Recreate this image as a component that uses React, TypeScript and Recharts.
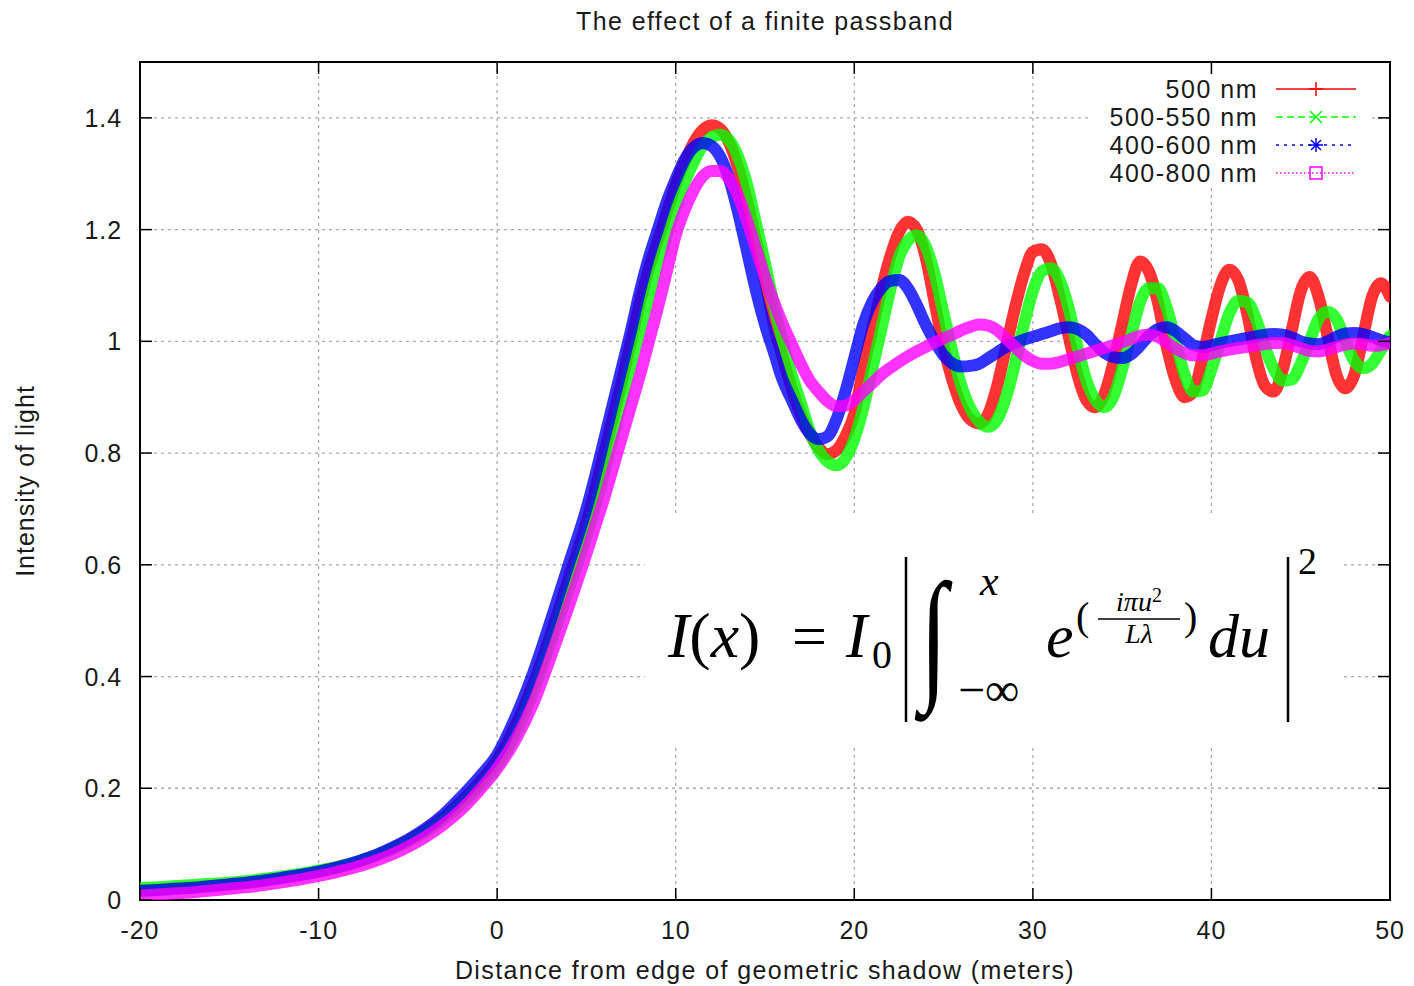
import React from "react";
import {
  LineChart,
  Line,
  XAxis,
  YAxis,
  CartesianGrid,
  ReferenceArea,
} from "recharts";

// ---------- data ----------
const X_VALUES = [
  -20, -19, -18, -17, -16, -15, -14, -13, -12, -11, -10, -9, -8, -7, -6, -5, -4, -3, -2, -1, 0, 1, 2, 3, 4,
  5, 5.5, 6, 6.5, 7, 7.5, 8, 8.5, 9, 9.5,
  10, 10.5, 11, 11.5, 12, 12.5, 13, 13.5, 14, 14.5,
  15, 15.5, 16, 16.5, 17, 17.5, 18, 18.5, 19, 19.5,
  20, 20.5, 21, 21.5, 22, 22.5, 23, 23.5, 24, 24.5,
  25, 25.5, 26, 26.5, 27, 27.5, 28, 28.5, 29, 29.5,
  30, 30.5, 31, 31.5, 32, 32.5, 33, 33.5, 34, 34.5,
  35, 35.5, 36, 36.5, 37, 37.5, 38, 38.5, 39, 39.5,
  40, 40.5, 41, 41.5, 42, 42.5, 43, 43.5, 44, 44.5,
  45, 45.5, 46, 46.5, 47, 47.5, 48, 48.5, 49, 49.5,
  50,
];

const NM_500 = [
  0.018, 0.019, 0.021, 0.023, 0.025, 0.028, 0.031, 0.035, 0.04, 0.045, 0.051, 0.058, 0.066, 0.077, 0.09, 0.106, 0.125, 0.148, 0.176, 0.21, 0.25, 0.31, 0.385, 0.475, 0.575,
  0.675, 0.735, 0.8, 0.865, 0.93, 1.0, 1.07, 1.13, 1.18, 1.23,
  1.28, 1.32, 1.355, 1.378, 1.387, 1.38, 1.355, 1.31, 1.25, 1.18,
  1.11, 1.03, 0.97, 0.915, 0.87, 0.835, 0.81, 0.798, 0.805, 0.83,
  0.87, 0.95, 1.02, 1.09, 1.15, 1.195, 1.214, 1.2, 1.15, 1.07,
  0.99, 0.93, 0.885, 0.86, 0.853, 0.87, 0.92, 0.99, 1.06, 1.12,
  1.16, 1.165, 1.14, 1.08, 1.01, 0.94, 0.895, 0.882, 0.905, 0.96,
  1.03, 1.1, 1.143, 1.125, 1.07, 0.99, 0.93, 0.9, 0.91, 0.97,
  1.04, 1.1, 1.128, 1.11, 1.05, 0.97, 0.92, 0.91, 0.95, 1.02,
  1.09, 1.115, 1.08, 1.01, 0.94, 0.916, 0.94, 1.01, 1.08, 1.104,
  1.08,
];

const NM_500_550 = [
  0.022, 0.023, 0.025, 0.027, 0.029, 0.031, 0.034, 0.038, 0.042, 0.047, 0.053, 0.059, 0.067, 0.077, 0.089, 0.104, 0.122, 0.144, 0.171, 0.203, 0.24, 0.295, 0.37, 0.46, 0.555,
  0.65, 0.705, 0.765, 0.83, 0.895, 0.96, 1.02, 1.08, 1.14, 1.19,
  1.24, 1.285, 1.32, 1.35, 1.365, 1.37, 1.36, 1.33, 1.28, 1.21,
  1.14, 1.065, 1.0, 0.94, 0.89, 0.84, 0.805, 0.785, 0.778, 0.79,
  0.825, 0.88, 0.95, 1.02, 1.09, 1.15, 1.18, 1.19, 1.17, 1.12,
  1.05, 0.98, 0.92, 0.88, 0.856, 0.847, 0.86, 0.9, 0.96, 1.03,
  1.09, 1.125, 1.131, 1.11, 1.06, 0.99, 0.93, 0.895, 0.882, 0.9,
  0.95, 1.01, 1.07, 1.095, 1.095, 1.06, 1.0, 0.94, 0.91, 0.912,
  0.95, 1.0, 1.05, 1.072, 1.07, 1.04, 0.99, 0.95, 0.93, 0.932,
  0.96, 1.0, 1.04, 1.053, 1.04, 1.0, 0.965, 0.952, 0.96, 0.985,
  1.01,
];

const NM_400_600 = [
  0.016, 0.018, 0.02, 0.022, 0.025, 0.028, 0.031, 0.035, 0.04, 0.045, 0.051, 0.058, 0.067, 0.078, 0.092, 0.108, 0.128, 0.153, 0.185, 0.22, 0.26, 0.325, 0.405, 0.5, 0.6,
  0.7, 0.76, 0.825, 0.89, 0.955, 1.02, 1.09, 1.15, 1.2, 1.25,
  1.29, 1.325, 1.347, 1.355, 1.35, 1.33, 1.29, 1.23, 1.16, 1.09,
  1.03, 0.98, 0.93, 0.895, 0.86, 0.835, 0.825, 0.83, 0.86, 0.91,
  0.97, 1.03, 1.07, 1.095, 1.108, 1.11, 1.095, 1.065, 1.03, 1.0,
  0.975, 0.96, 0.955, 0.956, 0.96, 0.97, 0.98, 0.99, 0.997, 1.003,
  1.008, 1.013, 1.018, 1.023, 1.025, 1.022, 1.012, 0.995, 0.98, 0.972,
  0.97, 0.977, 0.992, 1.01, 1.022, 1.025, 1.018, 1.005, 0.993, 0.99,
  0.993, 0.997, 1.0, 1.003, 1.006, 1.009, 1.012, 1.013, 1.012, 1.007,
  1.0, 0.996, 0.995, 1.0, 1.008, 1.014, 1.015, 1.013, 1.008, 1.002,
  0.998,
];

const NM_400_800 = [
  0.008, 0.01, 0.012, 0.014, 0.017, 0.02, 0.023, 0.027, 0.032, 0.037, 0.043, 0.05, 0.058, 0.068, 0.08, 0.095, 0.113, 0.135, 0.162, 0.196, 0.235, 0.285, 0.35, 0.435, 0.525,
  0.62, 0.67, 0.72, 0.775, 0.83, 0.885, 0.94, 1.0, 1.06, 1.125,
  1.19, 1.235, 1.27, 1.295, 1.305, 1.305, 1.29, 1.26, 1.215, 1.165,
  1.115, 1.07, 1.03, 0.995, 0.96, 0.93, 0.91, 0.893, 0.884, 0.885,
  0.895, 0.91, 0.925, 0.94, 0.952, 0.963, 0.973, 0.982, 0.99, 0.998,
  1.005, 1.012, 1.02, 1.026, 1.03, 1.028, 1.02, 1.005, 0.99, 0.975,
  0.965, 0.96, 0.96, 0.963, 0.968, 0.973, 0.978, 0.983, 0.988, 0.993,
  0.998, 1.004, 1.01, 1.012, 1.008, 0.998, 0.987, 0.979, 0.975, 0.975,
  0.978, 0.982, 0.985, 0.988, 0.99, 0.993, 0.995, 0.997, 0.997, 0.993,
  0.988, 0.983, 0.982, 0.985, 0.99, 0.994, 0.996, 0.995, 0.992, 0.993,
  0.997,
];

const X_TICKS = [-20, -10, 0, 10, 20, 30, 40, 50];
const Y_TICKS = [0, 0.2, 0.4, 0.6, 0.8, 1, 1.2, 1.4];

const SERIES = [
  { key: "s500", name: "500 nm", values: NM_500, color: "#ff0000", dash: "", marker: "plus" },
  { key: "s500_550", name: "500-550 nm", values: NM_500_550, color: "#00ff00", dash: "7 4", marker: "cross" },
  { key: "s400_600", name: "400-600 nm", values: NM_400_600, color: "#0000ff", dash: "3 5", marker: "star" },
  { key: "s400_800", name: "400-800 nm", values: NM_400_800, color: "#ff00ff", dash: "1.5 2.5", marker: "square" },
];

const TITLE = "The effect of a finite passband";
const X_LABEL = "Distance from edge of geometric shadow (meters)";
const Y_LABEL = "Intensity of light";

const data = X_VALUES.map((x, i) => {
  const row: Record<string, number> = { x };
  SERIES.forEach((s) => {
    row[s.key] = s.values[i];
  });
  return row;
});

// ---------- layout ----------
const W = 1414;
const H = 986;
const PLOT_LEFT = 140;
const PLOT_RIGHT = 1390;
const PLOT_TOP = 62;
const PLOT_BOTTOM = 900;
const FONT = "'Liberation Sans', Arial, sans-serif";
const SERIF = "'Liberation Serif', 'DejaVu Serif', serif";
const TEXT_COLOR = "#1a1a1a";
const TICK_LEN = 12;
const FS = 25;
const LS_TICK = 0.9;
const LS_LABEL = 1.4;

const YTick = (props: any) => {
  const { y, payload } = props;
  return (
    <g>
      <text
        x={PLOT_LEFT - 18}
        y={y}
        textAnchor="end"
        dominantBaseline="central"
        fontFamily={FONT}
        fontSize={FS}
        letterSpacing={LS_TICK}
        fill={TEXT_COLOR}
      >
        {String(payload.value)}
      </text>
      <line x1={PLOT_LEFT} x2={PLOT_LEFT + TICK_LEN} y1={y} y2={y} stroke="#000" strokeWidth={1.5} />
      <line x1={PLOT_RIGHT} x2={PLOT_RIGHT - TICK_LEN} y1={y} y2={y} stroke="#000" strokeWidth={1.5} />
    </g>
  );
};

const XTick = (props: any) => {
  const { x, payload } = props;
  return (
    <g>
      <text
        x={x}
        y={PLOT_BOTTOM + 30}
        textAnchor="middle"
        dominantBaseline="central"
        fontFamily={FONT}
        fontSize={FS}
        letterSpacing={LS_TICK}
        fill={TEXT_COLOR}
      >
        {String(payload.value)}
      </text>
      <line x1={x} x2={x} y1={PLOT_BOTTOM} y2={PLOT_BOTTOM - TICK_LEN} stroke="#000" strokeWidth={1.5} />
      <line x1={x} x2={x} y1={PLOT_TOP} y2={PLOT_TOP + TICK_LEN} stroke="#000" strokeWidth={1.5} />
    </g>
  );
};

const Marker = ({ kind, color }: { kind: string; color: string }) => {
  const cx = 40;
  const cy = 14;
  const r = 7;
  if (kind === "plus")
    return (
      <g stroke={color} strokeWidth={1.5}>
        <line x1={cx - r} x2={cx + r} y1={cy} y2={cy} />
        <line x1={cx} x2={cx} y1={cy - r} y2={cy + r} />
      </g>
    );
  if (kind === "cross")
    return (
      <g stroke={color} strokeWidth={1.5}>
        <line x1={cx - 6} x2={cx + 6} y1={cy - 6} y2={cy + 6} />
        <line x1={cx - 6} x2={cx + 6} y1={cy + 6} y2={cy - 6} />
      </g>
    );
  if (kind === "star")
    return (
      <g stroke={color} strokeWidth={1.5}>
        <line x1={cx - r} x2={cx + r} y1={cy} y2={cy} />
        <line x1={cx} x2={cx} y1={cy - r} y2={cy + r} />
        <line x1={cx - 5} x2={cx + 5} y1={cy - 5} y2={cy + 5} />
        <line x1={cx - 5} x2={cx + 5} y1={cy + 5} y2={cy - 5} />
      </g>
    );
  return <rect x={cx - 6} y={cy - 6} width={12} height={12} fill="none" stroke={color} strokeWidth={1.5} />;
};

const LegendBox = () => (
  <div
    style={{
      position: "absolute",
      left: 1090,
      top: 75,
      width: 280,
      height: 112,
      background: "#fff",
    }}
  >
    {SERIES.map((s) => (
      <div key={s.key} style={{ display: "flex", alignItems: "center", height: 28 }}>
        <div
          style={{
            width: 168,
            textAlign: "right",
            fontFamily: FONT,
            fontSize: FS,
            letterSpacing: 1.5,
            color: TEXT_COLOR,
            lineHeight: "28px",
            whiteSpace: "nowrap",
          }}
        >
          {s.name}
        </div>
        <svg width={80} height={28} style={{ marginLeft: 18, display: "block" }}>
          <line x1={0} x2={80} y1={14} y2={14} stroke={s.color} strokeWidth={1.5} strokeDasharray={s.dash || undefined} />
          <Marker kind={s.marker} color={s.color} />
        </svg>
      </div>
    ))}
  </div>
);

export default function App() {
  return (
    <div style={{ position: "absolute", left: 0, top: 0, width: W, height: H, background: "#fff" }}>
      <LineChart
        width={W}
        height={H}
        data={data}
        margin={{ top: PLOT_TOP, right: W - PLOT_RIGHT, bottom: H - PLOT_BOTTOM - 1, left: PLOT_LEFT - 1 }}
      >
        <CartesianGrid stroke="#a8a8a8" strokeWidth={1.3} strokeDasharray="3 4" />
        <XAxis
          type="number"
          dataKey="x"
          domain={[-20, 50]}
          ticks={X_TICKS}
          interval={0}
          height={1}
          axisLine={false}
          tickLine={false}
          tick={XTick}
          allowDataOverflow
        />
        <YAxis
          type="number"
          domain={[0, 1.5]}
          ticks={Y_TICKS}
          interval={0}
          width={1}
          axisLine={false}
          tickLine={false}
          tick={YTick}
          allowDataOverflow
        />
        {SERIES.map((s) => (
          <Line
            key={s.key}
            type="monotoneX"
            dataKey={s.key}
            name={s.name}
            stroke={s.color}
            strokeWidth={12}
            strokeOpacity={0.8}
            strokeLinecap="round"
            strokeLinejoin="round"
            dot={false}
            activeDot={false}
            isAnimationActive={false}
          />
        ))}
        <ReferenceArea x1={-20} x2={50} y1={0} y2={1.5} fill="none" stroke="#000" strokeWidth={2} ifOverflow="visible" />
      </LineChart>

      <LegendBox />

      <svg
        width={W}
        height={H}
        style={{ position: "absolute", left: 0, top: 0, pointerEvents: "none" }}
      >
        <text x={(PLOT_LEFT + PLOT_RIGHT) / 2} y={30} textAnchor="middle" fontFamily={FONT} fontSize={FS} letterSpacing={LS_LABEL} fill={TEXT_COLOR}>
          {TITLE}
        </text>
        <text x={(PLOT_LEFT + PLOT_RIGHT) / 2} y={979} textAnchor="middle" fontFamily={FONT} fontSize={FS} letterSpacing={LS_LABEL} fill={TEXT_COLOR}>
          {X_LABEL}
        </text>
        <text
          transform={`translate(34, ${(PLOT_TOP + PLOT_BOTTOM) / 2}) rotate(-90)`}
          textAnchor="middle"
          fontFamily={FONT}
          fontSize={FS}
          letterSpacing={1.0}
          fill={TEXT_COLOR}
        >
          {Y_LABEL}
        </text>

        {/* formula */}
        <rect x={645} y={515} width={695} height={230} fill="#fff" />
        <g fontFamily={SERIF} fill="#000">
          <text x={668} y={657} fontSize={64}>
            <tspan fontStyle="italic">I</tspan>
            <tspan>(</tspan>
            <tspan fontStyle="italic">x</tspan>
            <tspan>)</tspan>
          </text>
          <text x={792} y={657} fontSize={62}>=</text>
          <text x={846} y={657} fontSize={64} fontStyle="italic">I</text>
          <text x={872} y={668} fontSize={40}>0</text>
          <line x1={906} x2={906} y1={557} y2={722} stroke="#000" strokeWidth={2.5} />
          <text transform="translate(920, 683) scale(1, 1.45)" fontSize={100} fontStyle="italic">∫</text>
          <text x={980} y={595} fontSize={42} fontStyle="italic">x</text>
          <text x={958} y={706} fontSize={48}>−∞</text>
          <text x={1046} y={657} fontSize={62} fontStyle="italic">e</text>
          <text x={1076} y={630} fontSize={40}>(</text>
          <text x={1139} y={611} fontSize={28} textAnchor="middle">
            <tspan fontStyle="italic">iπu</tspan>
            <tspan fontSize={20} dy={-9}>2</tspan>
          </text>
          <line x1={1098} x2={1180} y1={619} y2={619} stroke="#000" strokeWidth={1.5} />
          <text x={1139} y={643} fontSize={28} fontStyle="italic" textAnchor="middle">Lλ</text>
          <text x={1184} y={630} fontSize={40}>)</text>
          <text x={1208} y={657} fontSize={62} fontStyle="italic">du</text>
          <line x1={1288} x2={1288} y1={557} y2={722} stroke="#000" strokeWidth={2.5} />
          <text x={1298} y={574} fontSize={38}>2</text>
        </g>
      </svg>
    </div>
  );
}
